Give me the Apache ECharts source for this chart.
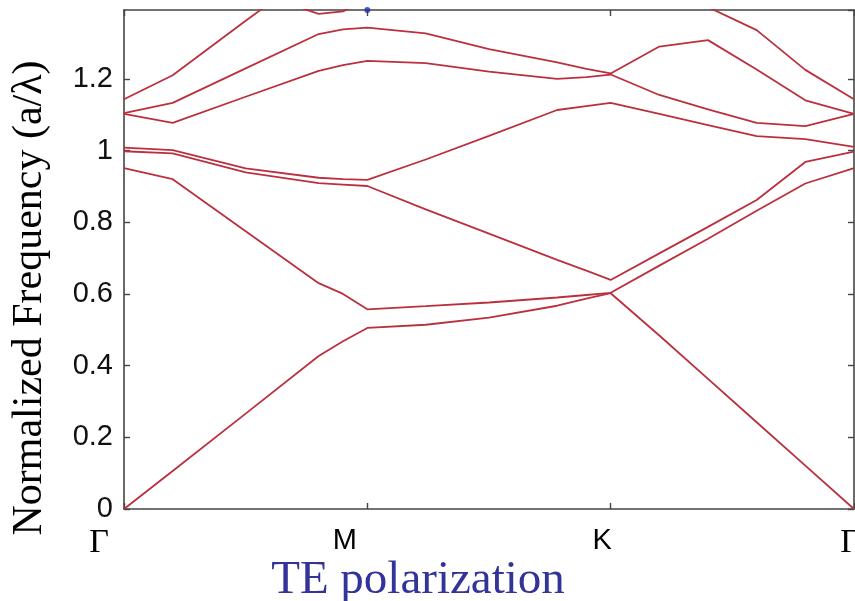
<!DOCTYPE html>
<html>
<head>
<meta charset="utf-8">
<script src="https://cdn.jsdelivr.net/npm/echarts@6/dist/echarts.min.js"></script>
<style>
  html, body { margin: 0; padding: 0; background: #ffffff; }
  #chart { width: 855px; height: 601px; }
</style>
</head>
<body>
<div id="chart"></div>
<script>
// Positions along the irreducible-zone path: Γ = 0, M = 1, K = 2, Γ = 3
const kPath = [0, 0.2, 0.5, 0.8, 0.9, 1.0, 1.24, 1.5, 1.78, 1.9, 2.0, 2.2, 2.4, 2.6, 2.8, 3.0];
const kTickLabels = ['Γ', 'M', 'K', 'Γ'];
const freqTickLabels = ['0', '0.2', '0.4', '0.6', '0.8', '1', '1.2'];

// Normalized frequency (a/λ) of each TE band at the path positions above
const band1 = [0, 0.106, 0.266, 0.427, 0.468, 0.505, 0.514, 0.534, 0.567, 0.587, 0.602, 0.484, 0.363, 0.242, 0.121, 0];
const band2 = [0.951, 0.920, 0.775, 0.630, 0.600, 0.557, 0.566, 0.576, 0.590, 0.597, 0.603, 0.679, 0.754, 0.832, 0.908, 0.951];
const band3 = [0.998, 0.992, 0.939, 0.909, 0.905, 0.901, 0.836, 0.768, 0.695, 0.665, 0.639, 0.713, 0.787, 0.862, 0.968, 0.997];
const band4 = [1.008, 1.001, 0.950, 0.924, 0.920, 0.918, 0.975, 1.041, 1.113, 1.124, 1.133, 1.102, 1.071, 1.040, 1.032, 1.010];
const band5 = [1.102, 1.077, 1.150, 1.222, 1.238, 1.250, 1.244, 1.220, 1.200, 1.205, 1.212, 1.155, 1.115, 1.077, 1.068, 1.102];
const band6 = [1.104, 1.133, 1.229, 1.325, 1.338, 1.343, 1.327, 1.283, 1.246, 1.228, 1.215, 1.290, 1.308, 1.226, 1.140, 1.102];
const band7 = [1.143, 1.210, 1.362, 1.510, 1.550, 1.570, 1.560, 1.530, 1.500, 1.490, 1.480, 1.450, 1.400, 1.336, 1.225, 1.143];
const band8 = [1.550, 1.520, 1.450, 1.381, 1.388, 1.420, 1.450, 1.480, 1.520, 1.530, 1.540, 1.560, 1.580, 1.600, 1.600, 1.600];
const bands = [band1, band2, band3, band4, band5, band6, band7, band8];

// Single marker sitting on the upper frame above M
const edgeMarker = [[1, 1.392]];

const freqMax = 1.392;
const lineColor = '#bb303e';
const frameColor = '#444444';

const chart = echarts.init(document.getElementById('chart'), null, { renderer: 'canvas' });

const bandSeries = bands.map((band, b) => ({
  name: 'band ' + (b + 1),
  type: 'line',
  xAxisIndex: 0,
  yAxisIndex: 0,
  data: kPath.map((k, i) => [k, band[i]]),
  showSymbol: false,
  symbol: 'none',
  clip: true,
  lineStyle: { color: lineColor, width: 1.8 },
  z: 3
}));

const frameAxisLine = { show: true, onZero: false, lineStyle: { color: frameColor, width: 1.6 } };
const frameTick = { show: true, inside: true, length: 6, lineStyle: { color: frameColor, width: 1.4 } };

chart.setOption({
  animation: false,
  backgroundColor: '#ffffff',
  grid: { left: 124, right: 1, top: 10, bottom: 92, containLabel: false, outerBoundsMode: 'none' },
  xAxis: [
    {
      type: 'value', position: 'bottom', min: 0, max: 3, interval: 1,
      axisLine: frameAxisLine, axisTick: frameTick, splitLine: { show: false },
      axisLabel: {
        show: true, margin: 17, showMinLabel: true, showMaxLabel: true, color: '#000',
        formatter: v => {
          const i = Math.round(v);
          return '{k' + i + '|' + kTickLabels[i] + '}';
        },
        rich: {
          k0: { fontFamily: 'Liberation Serif', fontSize: 34, color: '#000', padding: [0, 50, 0, 0] },
          k1: { fontFamily: 'Liberation Sans', fontSize: 29, color: '#000', padding: [0, 45, 0, 0] },
          k2: { fontFamily: 'Liberation Sans', fontSize: 29, color: '#000', padding: [0, 17, 0, 0] },
          k3: { fontFamily: 'Liberation Serif', fontSize: 34, color: '#000', padding: [0, 8, 0, 0] }
        }
      }
    },
    {
      type: 'value', position: 'top', min: 0, max: 3, interval: 1,
      axisLine: frameAxisLine, axisTick: frameTick, axisLabel: { show: false }, splitLine: { show: false }
    }
  ],
  yAxis: [
    {
      type: 'value', position: 'left', min: 0, max: freqMax, interval: 0.2,
      axisLine: frameAxisLine, axisTick: frameTick, splitLine: { show: false },
      axisLabel: {
        show: true, margin: 11, showMaxLabel: false, color: '#111',
        fontFamily: 'Liberation Sans', fontSize: 29,
        formatter: v => {
          const i = Math.round(v / 0.2);
          return Math.abs(v - i * 0.2) < 1e-6 && freqTickLabels[i] !== undefined ? freqTickLabels[i] : '';
        }
      }
    },
    {
      type: 'value', position: 'right', min: 0, max: freqMax, interval: 0.2,
      axisLine: frameAxisLine, axisTick: frameTick, axisLabel: { show: false }, splitLine: { show: false }
    }
  ],
  series: bandSeries.concat([{
    name: 'edge marker',
    type: 'scatter',
    xAxisIndex: 0,
    yAxisIndex: 0,
    data: edgeMarker,
    symbol: 'circle',
    symbolSize: 6,
    clip: false,
    itemStyle: { color: '#1f2fb0' },
    z: 5
  }]),
  graphic: [
    {
      type: 'text', x: 30, y: 298, rotation: Math.PI / 2,
      style: {
        text: 'Normalized Frequency (a/λ)', fill: '#000',
        font: '42px "Liberation Serif"', textAlign: 'center', textVerticalAlign: 'middle'
      }
    },
    {
      type: 'text', x: 418, y: 581,
      style: {
        text: 'TE polarization', fill: '#333399',
        font: '47px "Liberation Serif"', textAlign: 'center', textVerticalAlign: 'middle'
      }
    }
  ]
});
</script>
</body>
</html>
